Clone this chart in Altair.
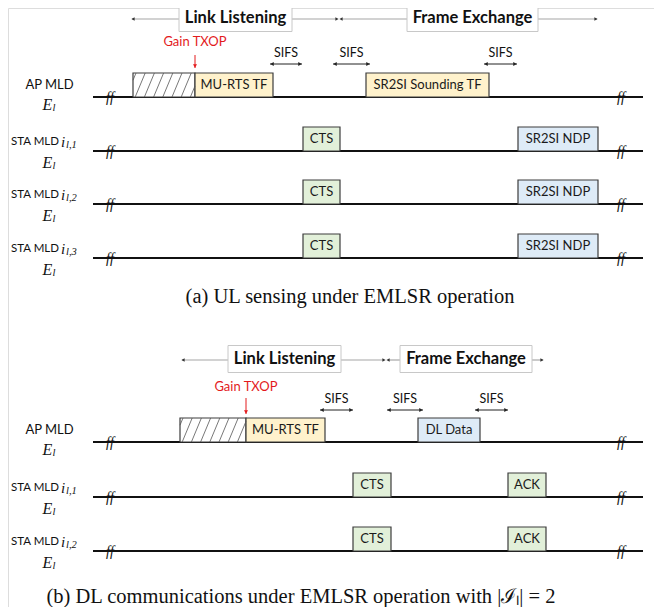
import altair as alt
import pandas as pd
import numpy as np

# ---------------- data (reference pixel units) ----------------
# panel (a) lanes
lane_y_a = [97, 151, 204, 258]
lane_sub_a = ["", "l,1", "l,2", "l,3"]
# panel (b) lanes
lane_y_b = [442, 497, 551]
lane_sub_b = ["", "l,1", "l,2"]

timeline_start = 93
timeline_end = 643
break_x = [110, 621]

# frames: label, start, end, lane, kind
frame_label = ["", "MU-RTS TF", "SR2SI Sounding TF",
               "CTS", "CTS", "CTS", "SR2SI NDP", "SR2SI NDP", "SR2SI NDP",
               "", "MU-RTS TF", "DL Data", "CTS", "CTS", "ACK", "ACK"]
frame_start = [133, 195, 366, 303, 303, 303, 518, 518, 518,
               180, 246, 418, 353, 353, 508, 508]
frame_end = [195, 273, 489, 340, 340, 340, 598, 598, 598,
             246, 325, 480, 391, 391, 546, 546]
frame_lane = [97, 97, 97, 151, 204, 258, 151, 204, 258,
              442, 442, 442, 497, 551, 497, 551]
frame_kind = ["backoff", "trigger", "trigger", "cts", "cts", "cts", "ndp", "ndp", "ndp",
              "backoff", "trigger", "ndp", "cts", "cts", "cts", "cts"]
frame_height = 24

# SIFS intervals: start, end, arrow row
sifs_start = [270, 333, 484, 320, 387, 475]
sifs_end = [302, 370, 517, 353, 423, 508]
sifs_y = [64, 64, 64, 410, 410, 410]

# Gain TXOP markers: x, text y, arrow top, arrow bottom
txop_x = [195, 246]
txop_text_y = [42, 387]
txop_arrow_top = [55, 398]
txop_arrow_bot = [68, 414]

# header phases: label, box left, box right, row
phase_label = ["Link Listening", "Frame Exchange", "Link Listening", "Frame Exchange"]
phase_left = [179, 407, 228, 400]
phase_right = [292, 538, 341, 532]
phase_y = [18, 18, 359, 359]
phase_arrow_left = [132, 182]
phase_arrow_mid = [339, 386]
phase_arrow_right = [597, 543]

captions = ["(a)  UL sensing under EMLSR operation",
            "(b) DL communications under EMLSR operation with |ℐₗ| = 2"]
caption_x = [350, 301]
caption_y = [297, 597]

# ---------------- styling ----------------
W, H = 646, 599
kind_fill = {"backoff": "#ffffff", "trigger": "#FFF2CC", "cts": "#E2F0D9", "ndp": "#DEEBF7"}
SANS = "Lato"
SERIF = "Liberation Serif"

xs = alt.Scale(domain=[8, 8 + W], range=[0, W], nice=False, zero=False)
ys = alt.Scale(domain=[8, 8 + H], range=[0, H], nice=False, zero=False)


def X(f):
    return alt.X(f, type="quantitative", scale=xs, axis=None)


def Y(f):
    return alt.Y(f, type="quantitative", scale=ys, axis=None)


def X2(f):
    return alt.X2(f)


def Y2(f):
    return alt.Y2(f)


layers = []

# timelines
lanes = lane_y_a + lane_y_b
tl = pd.DataFrame({"x": timeline_start, "x2": timeline_end, "y": lanes})
layers.append(alt.Chart(tl).mark_rule(color="#111111", strokeWidth=2).encode(
    x=X("x"), x2=X2("x2"), y=Y("y")))

# frames
fr = pd.DataFrame({"label": frame_label, "x": frame_start, "x2": frame_end,
                   "y2": frame_lane, "kind": frame_kind})
fr["y"] = fr["y2"] - frame_height
fr["fill"] = fr["kind"].map(kind_fill)
fr["cx"] = (fr["x"] + fr["x2"]) / 2
fr["cy"] = fr["y2"] - frame_height / 2
layers.append(alt.Chart(fr).mark_rect(stroke="#3c3c3c", strokeWidth=1.2).encode(
    x=X("x"), x2=X2("x2"), y=Y("y"), y2=Y2("y2"),
    fill=alt.Fill("fill:N", scale=None)))

# hatch lines for back-off boxes (derived from the box geometry)
hatch = []
for _, r in fr[fr["kind"] == "backoff"].iterrows():
    x0, x1, top, bot = r["x"], r["x2"], r["y"], r["y2"]
    h = bot - top
    dx = 10.0
    b = x0 + 3 - dx
    while b < x1:
        sx, sy = b, bot
        ex, ey = b + dx, top
        if sx < x0:
            sy = bot - (x0 - b) / dx * h
            sx = x0
        if ex > x1:
            ey = bot - (x1 - b) / dx * h
            ex = x1
        if ex > sx + 0.5:
            hatch.append({"x": sx, "y": sy, "x2": ex, "y2": ey})
        b += 9.2
hd = pd.DataFrame(hatch)
layers.append(alt.Chart(hd).mark_rule(color="#555555", strokeWidth=0.8).encode(
    x=X("x"), y=Y("y"), x2=X2("x2"), y2=Y2("y2")))

# frame labels
layers.append(alt.Chart(fr[fr["label"] != ""]).mark_text(
    font=SANS, fontSize=13, color="#1a1a1a", baseline="middle", align="center").encode(
    x=X("cx"), y=Y("cy"), text="label:N"))

# break marks
bk = pd.DataFrame([{"x": bx, "y": ly + 1} for ly in lanes for bx in break_x])
layers.append(alt.Chart(bk).mark_text(
    font=SERIF, fontSize=14, fontStyle="italic", text="ff", color="#111111",
    baseline="middle", align="center").encode(x=X("x"), y=Y("y")))

# header phase boxes
ph = pd.DataFrame({"label": phase_label, "x": phase_left, "x2": phase_right, "yc": phase_y})
ph["y"] = ph["yc"] - 13.5
ph["y2"] = ph["yc"] + 13.5
ph["cx"] = (ph["x"] + ph["x2"]) / 2

# header arrows (grey lines)
hl = []
hp = []
for i in range(2):
    ll, fe = ph.iloc[2 * i], ph.iloc[2 * i + 1]
    y = ll["yc"] + 1
    m = phase_arrow_mid[i]
    hl += [{"x": phase_arrow_left[i], "x2": ll["x"], "y": y},
           {"x": ll["x2"], "x2": m - 2, "y": y},
           {"x": m + 2, "x2": fe["x"], "y": y},
           {"x": fe["x2"], "x2": phase_arrow_right[i], "y": y}]
    hp += [{"x": phase_arrow_left[i] + 1, "y": y, "shape": "triangle-left"},
           {"x": m - 2, "y": y, "shape": "triangle-right"},
           {"x": m + 2, "y": y, "shape": "triangle-left"},
           {"x": phase_arrow_right[i] - 1, "y": y, "shape": "triangle-right"}]
layers.append(alt.Chart(pd.DataFrame(hl)).mark_rule(color="#a6a6a6", strokeWidth=1.2).encode(
    x=X("x"), x2=X2("x2"), y=Y("y")))
layers.append(alt.Chart(pd.DataFrame(hp)).mark_point(
    filled=True, color="#333333", size=14, opacity=1).encode(
    x=X("x"), y=Y("y"), shape=alt.Shape("shape:N", scale=None)))
layers.append(alt.Chart(ph).mark_rect(fill="#ffffff", stroke="#c8c8c8", strokeWidth=1).encode(
    x=X("x"), x2=X2("x2"), y=Y("y"), y2=Y2("y2")))
layers.append(alt.Chart(ph).mark_text(
    font=SANS, fontSize=16.5, fontWeight="bold", color="#111111",
    baseline="middle", align="center").encode(x=X("cx"), y=Y("yc"), text="label:N"))

# SIFS double arrows
sf = pd.DataFrame({"x": sifs_start, "x2": sifs_end, "y": sifs_y})
sf["cx"] = (sf["x"] + sf["x2"]) / 2
sf["ty"] = sf["y"] - 11
layers.append(alt.Chart(sf).mark_rule(color="#222222", strokeWidth=1).encode(
    x=X("x"), x2=X2("x2"), y=Y("y")))
sp = pd.concat([
    pd.DataFrame({"x": sf["x"] + 2, "y": sf["y"], "shape": "triangle-left"}),
    pd.DataFrame({"x": sf["x2"] - 2, "y": sf["y"], "shape": "triangle-right"})])
layers.append(alt.Chart(sp).mark_point(filled=True, color="#222222", size=16, opacity=1).encode(
    x=X("x"), y=Y("y"), shape=alt.Shape("shape:N", scale=None)))
layers.append(alt.Chart(sf).mark_text(
    font=SANS, fontSize=12.5, text="SIFS", color="#111111", baseline="middle", align="center").encode(
    x=X("cx"), y=Y("ty")))

# Gain TXOP
tx = pd.DataFrame({"x": txop_x, "ty": txop_text_y, "y": txop_arrow_top, "y2": txop_arrow_bot})
tx["hy"] = tx["y2"] - 2
layers.append(alt.Chart(tx).mark_text(
    font=SANS, fontSize=13, text="Gain TXOP", color="#E31A1C", baseline="middle", align="center").encode(
    x=X("x"), y=Y("ty")))
layers.append(alt.Chart(tx).mark_rule(color="#E31A1C", strokeWidth=1).encode(
    x=X("x"), y=Y("y"), y2=Y2("y2")))
layers.append(alt.Chart(tx).mark_point(filled=True, color="#E31A1C", size=16, shape="triangle-down",
                                       opacity=1).encode(x=X("x"), y=Y("hy")))

# lane labels
lab_main, lab_sub, lab_e = [], [], []
for ys_list, subs in ((lane_y_a, lane_sub_a), (lane_y_b, lane_sub_b)):
    for ly, sub in zip(ys_list, subs):
        if sub == "":
            lab_main.append({"x": 49.5, "y": ly - 12, "t": "AP MLD", "a": "center"})
            lab_e.append({"x": 47.5, "y": ly + 8, "sx": 54, "sy": ly + 11})
        else:
            lab_main.append({"x": 59, "y": ly - 9, "t": "STA MLD", "a": "right"})
            lab_sub.append({"x": 61, "y": ly - 9, "t": "i", "sz": 15})
            lab_sub.append({"x": 66, "y": ly - 6, "t": sub, "sz": 10.5})
            lab_e.append({"x": 47.5, "y": ly + 12, "sx": 54, "sy": ly + 15})
lm = pd.DataFrame(lab_main)
for al, szz in (("center", 13), ("right", 11.5)):
    layers.append(alt.Chart(lm[lm["a"] == al]).mark_text(
        font=SANS, fontSize=szz, color="#111111", baseline="middle", align=al).encode(
        x=X("x"), y=Y("y"), text="t:N"))
ls = pd.DataFrame(lab_sub)
for sz in (15, 10.5):
    layers.append(alt.Chart(ls[ls["sz"] == sz]).mark_text(
        font=SERIF, fontSize=sz, fontStyle="italic", color="#111111",
        baseline="middle", align="left").encode(x=X("x"), y=Y("y"), text="t:N"))
le = pd.DataFrame(lab_e)
layers.append(alt.Chart(le).mark_text(
    font=SERIF, fontSize=16, fontStyle="italic", text="E", color="#111111",
    baseline="middle", align="center").encode(x=X("x"), y=Y("y")))
layers.append(alt.Chart(le).mark_text(
    font=SERIF, fontSize=10.5, fontStyle="italic", text="l", color="#111111",
    baseline="middle", align="center").encode(x=X("sx"), y=Y("sy")))

# captions
cp = pd.DataFrame({"t": captions, "x": caption_x, "y": caption_y})
layers.append(alt.Chart(cp).mark_text(
    font=SERIF, fontSize=20.5, color="#111111", baseline="middle", align="center").encode(
    x=X("x"), y=Y("y"), text="t:N"))

chart = alt.layer(*layers).properties(
    width=W, height=H, padding=0,
    autosize=alt.AutoSizeParams(type="none"),
).configure_view(strokeWidth=0).configure(background="#ffffff")

chart.save("out.html", embed_options={"renderer": "svg", "actions": False})
